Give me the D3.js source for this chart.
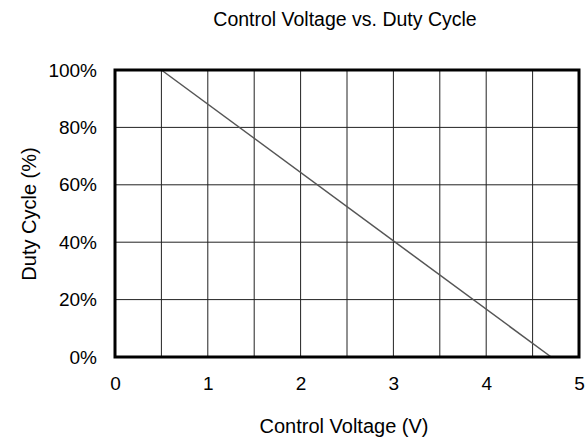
<!DOCTYPE html>
<html><head><meta charset="utf-8">
<script src="https://cdn.jsdelivr.net/npm/d3@7"></script>
<style>body{margin:0;background:#fff}svg{display:block}text{font-family:"Liberation Sans",Arial,sans-serif;fill:#000}</style>
</head><body>
<script>
const voltage = [0.5, 4.7];
const duty = [100, 0];
const xTicks = [0, 1, 2, 3, 4, 5];
const yTicks = [0, 20, 40, 60, 80, 100];
const xGrid = [0.5, 1, 1.5, 2, 2.5, 3, 3.5, 4, 4.5];

const W = 587, H = 443;
const m = {l: 115, r: 8, t: 70, b: 86};
const svg = d3.select("body").append("svg").attr("width", W).attr("height", H);
const x = d3.scaleLinear().domain([0, 5]).range([m.l, W - m.r]);
const y = d3.scaleLinear().domain([0, 100]).range([H - m.b, m.t]);

const g = svg.append("g");
g.selectAll(".vg").data(xGrid).join("line")
  .attr("x1", d => x(d)).attr("x2", d => x(d)).attr("y1", y(0)).attr("y2", y(100))
  .attr("stroke", "#222").attr("stroke-width", 1);
g.selectAll(".hg").data(yTicks.slice(1, -1)).join("line")
  .attr("y1", d => y(d)).attr("y2", d => y(d)).attr("x1", x(0)).attr("x2", x(5))
  .attr("stroke", "#222").attr("stroke-width", 1);

const pts = voltage.map((v, i) => [v, duty[i]]);
g.append("path").datum(pts)
  .attr("d", d3.line().x(d => x(d[0])).y(d => y(d[1])))
  .attr("fill", "none").attr("stroke", "#555").attr("stroke-width", 1.5);

g.append("rect").attr("x", x(0)).attr("y", y(100)).attr("width", x(5) - x(0)).attr("height", y(0) - y(100))
  .attr("fill", "none").attr("stroke", "#000").attr("stroke-width", 3);

const xAxis = svg.append("g").attr("transform", `translate(0,${y(0)})`)
  .call(d3.axisBottom(x).tickValues(xTicks).tickFormat(d3.format("d")).tickSize(0).tickPadding(20));
xAxis.select(".domain").remove();
xAxis.selectAll("text").style("font-size", "19px").style("font-family", "Liberation Sans, Arial, sans-serif");

const yAxis = svg.append("g").attr("transform", `translate(${x(0)},0)`)
  .call(d3.axisLeft(y).tickValues(yTicks).tickFormat(d => d + "%").tickSize(0).tickPadding(18));
yAxis.select(".domain").remove();
yAxis.selectAll("text").style("font-size", "19px").style("font-family", "Liberation Sans, Arial, sans-serif");

svg.append("text").attr("x", 345).attr("y", 26).attr("text-anchor", "middle")
  .style("font-size", "19.5px").text("Control Voltage vs. Duty Cycle");
svg.append("text").attr("x", 344).attr("y", 433).attr("text-anchor", "middle")
  .style("font-size", "20px").text("Control Voltage (V)");
svg.append("text").attr("transform", "translate(36,214) rotate(-90)").attr("text-anchor", "middle")
  .style("font-size", "20px").text("Duty Cycle (%)");
</script>
</body></html>
